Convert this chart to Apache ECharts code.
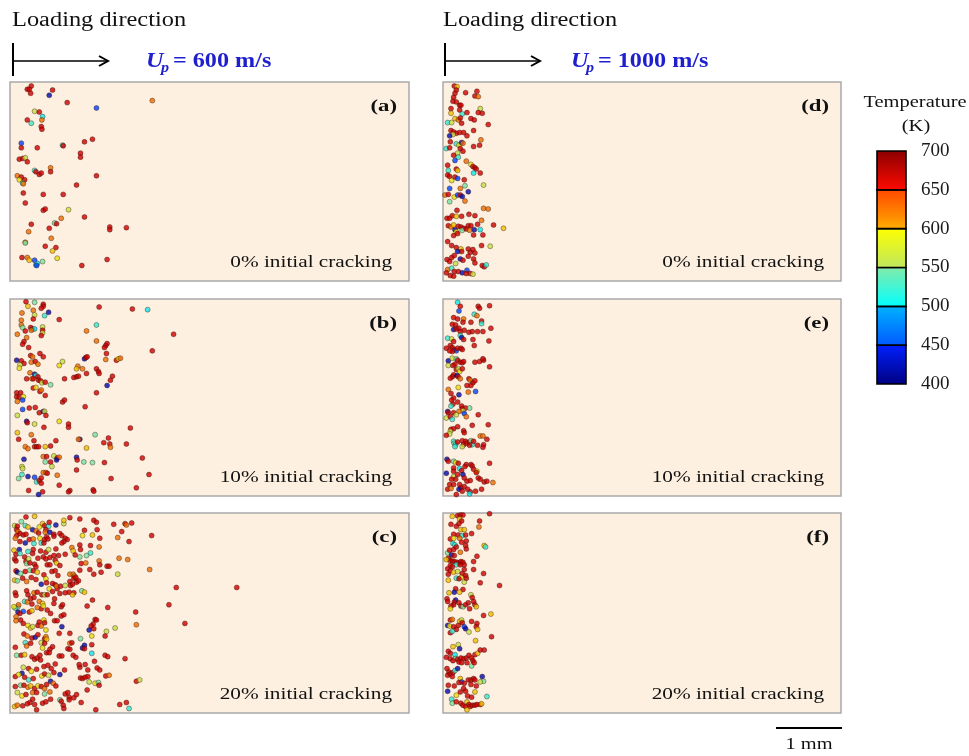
<!DOCTYPE html>
<html>
<head>
<meta charset="utf-8">
<title>Hot spots vs initial cracking</title>
<script src="https://cdn.jsdelivr.net/npm/echarts@6/dist/echarts.min.js"></script>
<style>
  html, body { margin: 0; padding: 0; background: #fff; }
  #chart { width: 969px; height: 756px; }
</style>
</head>
<body>
<div id="chart"></div>
<script>
// hot spot positions: x, y in units of 10 µm (panel is 6 mm x 3 mm), T in K
const panelA = [
  [32,6,680],[26,11,680],[29,11,680],[31,17,680],[64,12,680],[59,20,415],[86,31,680],[130,39,455],[214,28,640],
  [37,44,570],[44,45,680],[49,52,505],[48,57,640],[26,57,680],[32,62,525],[47,67,680],[48,71,680],
  [17,92,455],[17,99,680],[41,99,680],[79,95,520],[80,96,680],[112,90,680],[124,86,680],[106,107,680],[106,113,680],
  [14,116,680],[19,115,680],[23,114,570],[26,120,680],[37,133,520],[39,135,680],[44,139,680],[47,137,680],[61,129,640],[61,135,680],
  [11,141,640],[17,143,680],[14,147,595],[22,147,680],[19,152,520],[20,153,640],[130,141,680],[100,155,680],
  [20,167,680],[50,169,680],[80,169,680],[23,182,680],[50,193,680],[53,191,680],[88,192,570],[77,205,640],[112,203,680],
  [32,214,680],[67,212,540],[70,213,680],[59,220,680],[150,218,680],[150,222,680],[175,219,680],
  [28,225,640],[23,241,640],[23,242,540],[62,235,640],[53,247,680],[69,249,680],[64,254,610],
  [18,264,680],[26,264,640],[29,268,610],[37,268,455],[39,275,505],[41,273,505],[40,276,455],[49,270,540],[71,265,595],[108,276,680],[146,267,680]
];
const panelB = [
  [24,4,680],[27,11,610],[37,5,540],[50,8,680],[50,11,680],[47,14,680],[18,21,640],[35,17,640],[58,20,415],[52,25,520],[37,24,570],[35,30,680],
  [134,12,680],[184,15,680],[207,16,505],[17,32,640],[17,39,640],[19,43,540],[23,48,680],[31,43,680],[34,45,680],[37,45,505],[32,47,640],
  [49,42,570],[49,47,680],[49,51,570],[47,55,680],[74,31,680],[130,39,520],[115,48,640],[11,53,640],[25,58,640],[246,53,680],
  [21,64,680],[19,68,680],[28,73,680],[130,63,640],[146,67,680],[144,70,680],[142,73,680],[214,78,680],[145,82,680],
  [45,82,680],[31,85,680],[34,87,640],[50,87,680],[10,92,415],[17,93,680],[21,97,680],[15,99,570],[14,104,595],[32,95,640],[38,94,680],[42,98,640],
  [79,94,570],[74,100,595],[112,90,415],[114,88,680],[116,87,680],[144,91,640],[160,92,680],[163,90,595],[166,89,640],
  [102,101,640],[100,105,610],[109,105,640],[115,112,680],[130,105,680],[133,109,680],[134,112,680],
  [30,111,640],[37,113,415],[39,115,520],[42,117,680],[33,120,640],[25,120,680],[35,120,680],[43,122,680],[46,123,680],[48,126,570],[53,125,680],[61,129,540],
  [82,120,680],[96,118,680],[100,117,680],[103,116,680],[154,116,680],[151,122,680],[146,130,415],
  [35,134,680],[39,133,595],[45,139,680],[47,137,640],[53,145,680],[10,141,680],[16,141,680],[10,147,680],[14,148,680],[20,147,595],[11,154,640],[19,152,455],[130,141,680],
  [79,155,680],[82,152,680],[29,164,680],[38,163,680],[44,171,680],[50,169,415],[52,169,570],[54,175,680],[19,166,455],[11,175,570],[113,162,680],
  [25,184,415],[26,186,680],[37,188,570],[51,193,680],[74,184,595],[88,188,680],[88,193,680],[181,194,680],
  [11,201,610],[32,204,640],[13,211,680],[36,213,680],[69,213,680],[128,204,540],[148,209,680],[141,216,680],[150,218,680],[175,218,680],[105,211,415],[103,211,640],
  [23,222,640],[27,225,640],[37,222,680],[40,222,680],[43,222,680],[53,222,610],[61,221,680],[115,224,610],[151,223,640],
  [21,241,415],[50,237,640],[55,237,680],[66,236,570],[71,239,680],[74,238,640],[70,242,415],[100,238,415],[101,242,680],[53,245,540],[61,245,680],[111,245,540],[124,246,540],[142,246,680],[199,239,680],
  [18,252,570],[19,255,570],[63,252,570],[100,257,680],[18,264,520],[13,270,540],[27,267,415],[37,268,455],[40,275,520],[44,273,680],[47,269,680],[47,277,680],
  [50,261,640],[54,261,640],[56,262,680],[71,265,640],[152,270,680],[209,264,680],
  [28,288,680],[49,290,680],[43,294,415],[74,280,680],[90,288,680],[88,290,680],[125,287,680],[126,289,680],[190,284,680]
];
const panelC = [
  [24,6,680],[37,5,610],[90,7,680],[105,9,680],[126,11,680],[130,14,680],[17,13,540],[7,19,570],[11,20,680],[10,25,680],[23,19,520],[27,21,610],
  [34,25,415],[44,21,595],[49,16,610],[52,19,680],[58,20,520],[59,14,680],[69,18,415],[81,16,570],[81,11,610],[54,25,680],[53,29,640],[12,28,640],
  [15,31,680],[10,34,680],[20,33,680],[24,32,680],[39,27,640],[43,30,680],[60,29,415],[66,32,680],[75,31,680],[78,34,680],[83,38,680],[86,40,680],
  [66,35,680],[112,26,680],[109,34,595],[124,33,610],[131,25,680],[135,38,680],[156,17,680],[173,16,680],[175,18,640],[183,15,680],[168,28,680],
  [162,37,640],[179,43,680],[213,34,680],
  [8,38,640],[15,43,680],[23,45,415],[29,40,680],[35,39,640],[36,46,520],[47,45,520],[51,45,680],[45,38,595],[52,40,680],[55,36,680],[57,39,680],
  [81,43,680],[78,45,680],[93,52,640],[105,48,680],[121,49,680],[134,51,640],[6,56,610],[14,55,415],[9,62,680],[15,61,520],[27,58,520],[34,61,680],
  [35,55,680],[46,57,680],[54,59,680],[58,55,570],[69,54,680],[73,64,680],[95,57,610],[106,55,680],[121,60,520],[115,64,540],[105,66,540],[98,63,680],[83,62,680],
  [7,69,680],[9,72,680],[22,66,680],[24,73,680],[28,69,570],[25,76,540],[30,75,680],[42,68,680],[50,66,680],[54,69,680],[60,67,680],[66,64,680],
  [68,71,680],[70,75,610],[75,79,680],[37,77,680],[39,81,680],[56,78,680],[60,78,680],[107,76,680],[114,75,640],[134,72,640],[135,78,680],[146,80,680],
  [149,80,680],[164,68,640],[177,70,640],[210,85,640],[9,87,680],[11,89,415],[16,91,540],[23,88,680],[30,86,540],[35,87,680],[41,89,610],[51,93,680],
  [63,88,680],[68,87,680],[72,94,680],[90,92,640],[95,92,640],[97,95,640],[105,86,680],[120,85,680],[126,92,680],[137,89,680],[162,92,570],
  [7,101,610],[11,102,540],[19,98,680],[25,103,640],[32,97,680],[39,100,680],[47,107,415],[54,99,595],[55,105,680],[64,106,680],[68,108,680],[71,114,680],
  [70,110,640],[59,114,595],[76,110,680],[83,109,570],[90,103,680],[91,109,680],[94,107,680],[100,104,680],[103,102,680],[96,98,680],[99,97,680],
  [89,119,680],[96,120,680],[94,123,610],[108,117,540],[112,119,610],[250,112,680],[341,112,680],[8,120,680],[9,124,680],[25,117,680],[27,123,680],
  [36,120,640],[36,127,680],[41,119,680],[48,123,680],[52,123,570],[56,123,680],[64,118,680],[75,121,680],[83,120,680],
  [22,133,520],[12,141,540],[8,143,520],[6,141,595],[12,149,415],[13,138,640],[26,134,640],[31,129,680],[33,137,680],[44,133,640],[49,136,610],[47,144,680],
  [50,140,595],[67,129,680],[66,136,680],[77,141,680],[79,138,680],[20,148,455],[9,156,640],[15,151,680],[29,149,680],[33,147,610],[41,142,640],[56,146,680],
  [61,151,680],[124,131,680],[116,140,680],[147,142,680],[239,138,680],[189,149,680],[77,155,680],[81,153,680],[67,162,680],[71,162,680],
  [16,161,680],[20,166,680],[9,162,640],[27,169,595],[31,173,610],[34,171,570],[42,169,680],[44,164,680],[47,170,640],[51,161,595],[52,165,680],[54,176,595],
  [78,171,415],[128,160,680],[130,161,680],[125,167,680],[122,170,680],[126,174,680],[119,176,415],[145,178,570],[158,173,570],[190,168,640],[263,166,680],
  [21,182,680],[26,185,640],[33,188,680],[38,187,415],[42,183,680],[52,189,680],[54,186,640],[55,190,610],[74,181,680],[90,181,680],[123,185,595],[106,189,540],[143,185,680],
  [8,202,680],[23,195,520],[25,200,640],[31,196,680],[47,195,570],[49,203,595],[52,196,680],[64,201,680],[60,205,680],[90,196,640],[93,195,680],[87,204,680],
  [90,205,680],[112,199,415],[109,203,415],[123,198,680],[123,211,505],[112,204,680],[10,214,540],[17,214,680],[22,213,610],[33,216,680],[37,220,680],
  [41,218,680],[45,214,680],[46,221,680],[55,210,680],[59,210,680],[74,215,680],[78,215,680],[95,214,680],[99,217,680],[143,214,680],[147,216,680],[173,219,680],[127,223,680],
  [20,232,570],[18,241,415],[28,234,680],[32,238,595],[40,235,680],[51,231,680],[57,229,680],[62,234,680],[68,227,680],[66,240,680],[75,243,415],[82,236,680],
  [105,232,680],[104,228,680],[113,228,680],[117,236,680],[131,233,680],[135,236,680],[8,246,680],[13,243,595],[22,247,680],[28,251,520],[35,249,680],[48,245,595],
  [52,242,680],[58,244,570],[61,253,415],[65,256,640],[106,248,680],[109,249,680],[113,247,680],[117,246,680],[119,254,570],[128,256,595],[133,255,540],[134,259,680],
  [144,245,680],[149,244,640],[190,253,680],[195,251,570],
  [8,261,680],[16,259,540],[21,259,680],[27,262,640],[31,260,610],[37,264,680],[42,260,595],[47,261,680],[52,264,640],[55,258,680],[69,260,680],[11,270,570],
  [18,275,595],[24,273,680],[34,270,640],[40,270,680],[52,272,540],[60,269,640],[83,272,680],[87,270,680],[89,277,680],[96,278,680],[100,273,680],[116,266,680],
  [34,280,680],[30,285,680],[26,287,680],[19,290,680],[7,291,610],[11,289,640],[37,288,680],[49,286,680],[54,284,680],[61,280,680],[75,281,540],[80,289,680],
  [89,281,680],[107,285,680],[77,283,680],[165,288,680],[175,285,680],[179,294,520],[129,296,680],[81,294,680],[40,296,680]
];
const panelD = [
  [17,6,680],[21,7,610],[20,12,680],[34,16,680],[51,14,680],[48,21,680],[53,22,640],[18,17,680],[16,23,680],[15,29,680],[20,30,680],[25,35,680],[27,35,680],
  [12,40,680],[12,47,610],[25,42,680],[29,48,520],[36,46,680],[56,40,570],[53,46,680],[59,47,680],[18,55,610],[23,57,640],[26,54,680],[7,61,520],[13,61,570],
  [28,62,680],[42,55,680],[47,57,680],[68,64,680],[12,73,680],[16,75,680],[20,77,680],[15,79,570],[10,81,415],[25,76,680],[31,76,680],[46,73,680],[36,81,680],
  [57,87,640],[55,95,680],[46,97,680],[11,90,680],[5,100,520],[10,99,680],[20,93,520],[24,95,595],[28,91,415],[30,92,640],[26,100,680],[30,104,680],[22,107,570],
  [23,113,520],[18,118,455],[16,110,680],[35,119,640],[42,124,595],[45,127,680],[48,129,680],[50,131,680],[56,137,680],[46,137,505],[7,125,680],[8,133,520],
  [20,131,680],[22,133,610],[7,140,680],[10,142,680],[13,148,595],[18,143,680],[22,145,455],[32,147,680],[33,156,540],[61,155,570],[10,160,455],[26,160,640],
  [38,165,415],[3,170,640],[8,169,680],[17,173,595],[22,170,455],[26,170,680],[29,172,415],[10,180,540],[33,179,640],[21,193,680],[61,190,640],[68,191,640],
  [6,205,680],[10,205,680],[14,201,680],[20,202,610],[28,202,680],[39,199,680],[48,201,680],[58,208,640],[8,216,680],[12,218,640],[16,215,610],[18,222,415],
  [20,225,595],[23,217,680],[27,218,680],[31,220,680],[29,223,540],[35,221,680],[38,216,680],[42,216,680],[40,223,640],[47,222,415],[52,214,680],[56,222,505],
  [60,230,680],[76,215,680],[91,220,610],[16,231,680],[22,228,680],[46,230,680],[7,240,680],[13,246,680],[20,249,680],[27,251,610],[28,255,680],[22,255,415],
  [38,251,680],[41,256,680],[45,252,680],[48,257,680],[58,246,680],[71,247,570],[6,267,680],[10,270,680],[13,264,680],[17,261,680],[19,273,570],[26,266,415],
  [30,268,680],[38,262,680],[46,266,680],[48,272,680],[59,276,680],[62,278,680],[65,275,520],[7,282,640],[13,280,520],[17,285,680],[23,285,680],[29,287,415],
  [36,283,455],[35,288,680],[41,288,680],[45,289,570],[11,291,680],[16,292,680],[5,287,680]
];
const panelE = [
  [22,5,505],[26,11,680],[24,18,455],[53,11,680],[55,14,680],[70,10,680],[47,23,520],[51,25,640],[16,28,680],[22,30,680],[31,30,640],[30,35,680],[14,38,680],
  [19,39,680],[42,35,680],[58,33,680],[58,37,520],[16,46,415],[20,45,680],[24,44,680],[26,49,680],[32,47,680],[39,50,680],[44,49,680],[52,49,680],[60,49,680],
  [72,44,680],[26,55,520],[28,58,415],[31,61,680],[7,59,520],[13,60,570],[16,64,680],[45,61,680],[69,63,680],[11,70,680],[5,74,680],[14,73,680],[17,76,680],
  [20,78,455],[22,74,680],[27,74,680],[29,76,680],[14,79,680],[10,78,680],[47,70,680],[8,93,415],[14,89,570],[20,90,540],[22,92,680],[26,95,680],[29,96,680],
  [31,94,680],[18,98,680],[48,95,680],[55,94,680],[61,92,680],[60,90,680],[8,100,570],[15,100,680],[20,106,680],[23,105,570],[25,109,595],[29,105,680],[70,102,680],
  [16,114,680],[14,117,680],[11,119,680],[21,115,415],[23,117,680],[26,120,640],[39,120,680],[41,122,640],[45,126,680],[48,123,680],[42,130,680],[36,130,680],
  [23,133,595],[38,140,640],[49,139,455],[8,136,640],[12,142,680],[24,144,415],[16,149,680],[13,152,680],[22,155,680],[15,158,680],[12,161,520],[28,161,680],
  [29,165,680],[34,164,680],[40,164,540],[30,168,570],[24,169,640],[32,172,455],[16,171,680],[7,169,415],[8,171,680],[5,179,570],[11,177,680],[14,181,520],
  [20,174,570],[35,177,640],[53,174,680],[22,192,680],[44,190,680],[68,189,680],[12,196,680],[16,195,680],[11,199,570],[10,203,570],[5,205,680],[31,198,680],
  [32,201,680],[56,206,640],[60,206,640],[16,214,520],[17,217,540],[19,219,505],[18,222,520],[22,215,680],[29,213,680],[31,219,680],[34,214,680],[36,217,680],
  [40,215,680],[42,213,540],[44,219,520],[40,220,680],[29,222,570],[46,214,680],[52,220,680],[61,219,680],[60,223,680],[66,211,680],[6,241,415],[8,244,680],
  [16,244,540],[19,246,595],[23,247,680],[16,254,680],[25,255,505],[28,258,680],[35,249,680],[33,252,680],[42,249,680],[44,251,680],[46,256,680],[51,259,595],
  [50,261,680],[70,247,680],[5,262,415],[16,259,680],[16,267,570],[19,271,680],[13,271,680],[22,264,680],[30,264,415],[32,269,680],[36,274,680],[41,273,680],
  [53,269,680],[56,271,680],[10,279,680],[7,286,680],[16,279,680],[25,279,680],[27,284,680],[32,282,680],[37,286,680],[41,290,680],[40,293,505],[49,289,680],
  [58,286,680],[62,275,680],[66,274,680],[75,276,640],[12,285,640],[24,286,415],[29,289,680],[20,294,680]
];
const panelF = [
  [14,5,610],[22,4,680],[26,3,680],[30,3,680],[25,9,610],[28,12,680],[24,16,680],[70,1,680],[55,12,680],[54,21,640],[12,17,680],[20,20,680],[27,25,610],
  [32,25,610],[43,31,680],[16,32,680],[23,33,680],[29,34,520],[34,33,680],[11,39,680],[16,38,595],[25,38,640],[35,42,680],[15,46,505],[18,48,520],[28,44,680],
  [34,49,680],[62,49,610],[64,51,520],[7,60,540],[10,56,680],[16,55,680],[20,51,680],[35,54,680],[13,63,415],[17,64,680],[26,59,640],[8,68,680],[10,71,680],
  [5,70,610],[14,72,680],[17,73,680],[21,74,680],[24,75,680],[27,73,680],[30,74,680],[20,78,520],[26,78,680],[32,78,680],[51,65,680],[46,73,680],[11,79,680],
  [14,81,680],[7,84,680],[11,87,680],[16,89,610],[22,88,570],[8,92,680],[29,91,680],[32,85,680],[46,85,680],[61,91,680],[27,97,595],[20,98,520],[24,99,680],
  [8,101,610],[32,104,570],[56,105,680],[34,94,680],[35,98,680],[85,109,680],[19,114,680],[17,119,415],[30,115,680],[25,119,610],[9,120,610],[6,129,680],
  [7,133,680],[19,131,415],[17,134,680],[16,138,680],[12,140,680],[11,144,595],[24,135,680],[27,140,680],[30,141,540],[34,138,680],[38,135,680],[42,123,570],
  [44,127,680],[46,133,680],[48,138,680],[50,141,610],[40,144,680],[61,154,680],[72,152,610],[11,161,680],[14,160,640],[25,163,610],[28,161,570],[29,165,680],
  [23,169,680],[7,169,415],[10,170,595],[16,171,680],[20,175,680],[32,171,455],[34,174,415],[43,163,680],[51,166,680],[50,171,680],[52,175,610],[11,180,680],
  [14,178,520],[39,179,570],[73,186,680],[49,192,610],[23,198,570],[25,204,415],[15,201,610],[8,208,680],[11,211,680],[18,213,505],[19,219,540],[22,220,680],
  [27,218,680],[31,219,680],[35,218,680],[39,214,680],[43,218,680],[45,222,680],[48,213,680],[52,211,610],[56,206,680],[62,206,680],[5,217,680],[11,219,680],
  [15,222,680],[24,224,680],[28,225,680],[36,225,680],[43,230,540],[47,225,680],[6,234,680],[9,239,680],[7,244,680],[11,242,680],[15,240,680],[18,237,520],
  [22,234,415],[14,246,680],[26,249,610],[28,254,455],[24,255,680],[32,256,680],[38,251,680],[42,251,680],[46,249,680],[48,251,680],[42,258,680],[59,246,415],
  [61,253,540],[56,254,570],[50,260,680],[8,259,680],[7,268,415],[17,260,680],[20,274,595],[26,269,680],[31,264,680],[34,268,680],[37,275,680],[43,277,680],
  [48,269,610],[66,276,520],[13,280,520],[14,286,540],[20,284,680],[27,286,680],[30,289,680],[34,291,680],[36,284,610],[39,288,680],[41,291,680],[44,289,680],
  [48,289,680],[51,288,680],[56,288,680],[58,287,610],[36,296,610]
];

const panelTags = ['(a)', '(b)', '(c)', '(d)', '(e)', '(f)'];
const crackLabels = ['0% initial cracking', '10% initial cracking', '20% initial cracking'];
const velocities = ['600', '1000'];
const tempTicks = [400, 450, 500, 550, 600, 650, 700];

const panels = [panelA, panelB, panelC, panelD, panelE, panelF];
const pxPerUnit = 0.665; // 66.5 px = 1 mm
const serif = '"Liberation Serif", "Times New Roman", serif';

// panel boxes: left, top, width, height
const boxes = [
  [10, 82, 399, 199], [10, 299, 399, 197], [10, 513, 399, 200],
  [443, 82, 398, 199], [443, 299, 398, 197], [443, 513, 398, 200]
];

// colour bar bands, bottom colour -> top colour
const bandColors = [
  ['#000080', '#0020ff'], ['#0058ff', '#00b4ff'], ['#00ffff', '#86eaa8'],
  ['#bde660', '#ffff00'], ['#ffae00', '#ff4600'], ['#ff0a00', '#8a0000']
];
const bands = tempTicks.slice(0, -1).map((t, i) => [t, tempTicks[i + 1], i]);

const grid = boxes.map(b => ({
  left: b[0], top: b[1], width: b[2], height: b[3],
  show: true, backgroundColor: '#fdf0e0', borderColor: '#a9a9a9', borderWidth: 1.5
}));
grid.push({ left: 877, top: 151, width: 29, height: 233 });

const xAxis = boxes.map((b, i) => ({
  type: 'value', gridIndex: i, min: 0, max: b[2] / pxPerUnit, show: false
}));
xAxis.push({ type: 'category', gridIndex: 6, data: ['T'], show: false });

const yAxis = boxes.map((b, i) => ({
  type: 'value', gridIndex: i, min: 0, max: b[3] / pxPerUnit, inverse: true, show: false
}));
yAxis.push({
  type: 'value', gridIndex: 6, min: 400, max: 700, interval: 50, position: 'right',
  axisLine: { show: false }, axisTick: { show: false }, splitLine: { show: false },
  axisLabel: { margin: 15, fontSize: 19, color: '#1a1a1a', fontFamily: serif }
});

const series = panels.map((d, i) => ({
  type: 'scatter', xAxisIndex: i, yAxisIndex: i, data: d, symbolSize: 5,
  itemStyle: { borderColor: 'rgba(50,15,5,0.8)', borderWidth: 0.6 }, silent: true
}));
series.push({
  type: 'custom', xAxisIndex: 6, yAxisIndex: 6, data: bands, silent: true,
  renderItem: (params, api) => {
    const top = api.coord([0, api.value(1)]);
    const bot = api.coord([0, api.value(0)]);
    const w = api.size([1, 0])[0];
    const c = bandColors[api.value(2)];
    return {
      type: 'rect',
      shape: { x: top[0] - w / 2, y: top[1], width: w, height: bot[1] - top[1] },
      style: {
        fill: new echarts.graphic.LinearGradient(0, 1, 0, 0, [
          { offset: 0, color: c[0] }, { offset: 1, color: c[1] }
        ]),
        stroke: '#000', lineWidth: 1.6
      }
    };
  }
});

function txt(x, y, text, size, opts = {}) {
  return {
    type: 'text', x, y, scaleX: opts.sx || 1.22, z: 10,
    style: {
      text, x: 0, y: 0, fill: opts.color || '#111',
      font: (opts.weight || 'normal') + ' ' + (opts.style || 'normal') + ' ' + size + 'px ' + serif,
      fontStyle: opts.style || 'normal', fontWeight: opts.weight || 'normal', fontSize: size, fontFamily: serif,
      align: opts.align || 'left', textAlign: opts.align || 'left',
      verticalAlign: 'middle', textVerticalAlign: 'middle'
    }
  };
}
function seg(x1, y1, x2, y2, w) {
  return { type: 'line', z: 10, shape: { x1, y1, x2, y2 }, style: { stroke: '#000', lineWidth: w } };
}

const graphic = [];
[[12, 13, 108, 146], [443, 445, 540, 571]].forEach((a, k) => {
  graphic.push(txt(a[0], 21, 'Loading direction', 20));
  graphic.push(seg(a[1], 43, a[1], 76, 2));
  graphic.push(seg(a[1], 61, a[2], 61, 1.6));
  graphic.push({ type: 'polyline', z: 10, shape: { points: [[a[2] - 9, 56], [a[2], 61], [a[2] - 9, 66]] },
    style: { stroke: '#000', lineWidth: 2, fill: null } });
  const blue = '#1f1fcf';
  graphic.push(txt(a[3], 62, 'U', 21, { weight: 'bold', style: 'italic', color: blue, sx: 1.15 }));
  graphic.push(txt(a[3] + 15, 68, 'p', 14, { weight: 'bold', style: 'italic', color: blue, sx: 1.15 }));
  graphic.push(txt(a[3] + 27, 62, '= ' + velocities[k] + ' m/s', 21, { weight: 'bold', color: blue, sx: 1.15 }));
});
boxes.forEach((b, i) => {
  const right = b[0] + b[2];
  graphic.push(txt(right - 12, b[1] + 24, panelTags[i], 17.5, { weight: 'bold', align: 'right', sx: 1.3 }));
  graphic.push(txt(right - 17, b[1] + b[3] - 18, crackLabels[i % 3], 17, { align: 'right', sx: 1.25 }));
});
graphic.push(txt(915, 103, 'Temperature', 16.5, { align: 'center', sx: 1.24 }));
graphic.push(txt(916, 127, '(K)', 16.5, { align: 'center', sx: 1.24 }));
graphic.push(seg(776, 728, 842, 728, 2.2));
graphic.push(txt(809, 745, '1 mm', 17, { align: 'center', sx: 1.2 }));

const chart = echarts.init(document.getElementById('chart'));
chart.setOption({
  animation: false,
  backgroundColor: '#ffffff',
  grid, xAxis, yAxis, series, graphic,
  visualMap: {
    type: 'continuous', show: false, seriesIndex: [0, 1, 2, 3, 4, 5], dimension: 2,
    min: 400, max: 700,
    inRange: {
      color: ['#000080', '#0010d0', '#0030ff', '#0088ff', '#00e8f8', '#40e8c8', '#98e088',
        '#d0e030', '#f0dc00', '#f09800', '#e85000', '#e00000', '#800000']
    }
  }
});
</script>
</body>
</html>
